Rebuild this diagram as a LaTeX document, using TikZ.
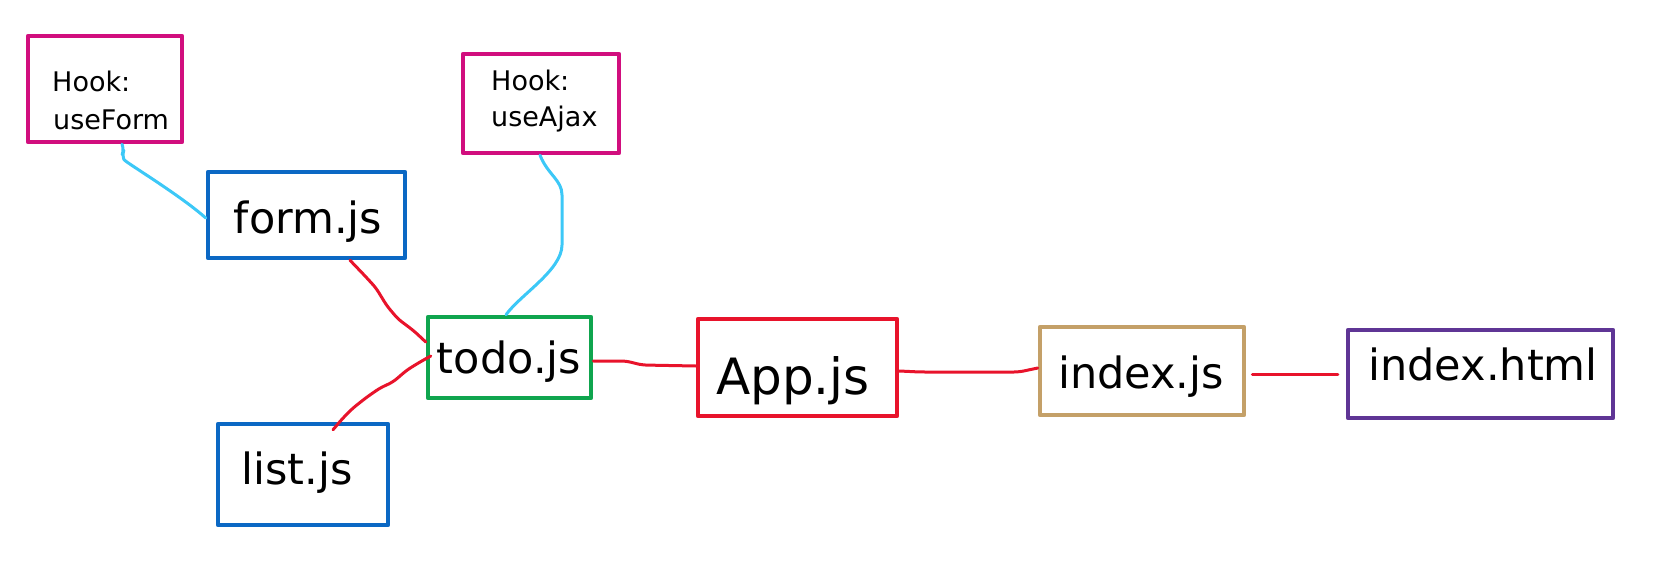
\documentclass[tikz,border=0pt]{standalone}
\usepackage{fontspec}
\setmainfont{DejaVu Sans}
\definecolor{hookc}{HTML}{D10E7E}
\definecolor{bluec}{HTML}{0B68C4}
\definecolor{cyanc}{HTML}{3CC8F7}
\definecolor{redc}{HTML}{E8132B}
\definecolor{greenc}{HTML}{0FA54E}
\definecolor{tanc}{HTML}{C4A068}
\definecolor{purplec}{HTML}{5F3595}
\begin{document}
\begin{tikzpicture}[x=1pt,y=-1pt,
  box/.style={draw=#1, line width=4.5pt, inner sep=0pt, line join=round},
  conn/.style={draw=#1, line width=3pt, line cap=round, line join=round, rounded corners=5pt},
  big/.style={font=\fontsize{43}{50}\selectfont, anchor=base, inner sep=0pt},
  small/.style={font=\fontsize{27}{32}\selectfont, anchor=base west, inner sep=0pt}]
\useasboundingbox (0,0) rectangle (1664,567);

% boxes
\node[box=hookc, minimum width=154pt, minimum height=106pt] (hf) at (105,89) {};
\node[box=hookc, minimum width=156pt, minimum height=99pt] (ua) at (541,103.5) {};
\node[box=bluec, minimum width=197pt, minimum height=86pt] (form) at (306.5,215) {};
\node[box=greenc, minimum width=163pt, minimum height=81pt] (todo) at (509.5,357.5) {};
\node[box=bluec, minimum width=170pt, minimum height=101pt] (list) at (303,474.5) {};
\node[box=redc, minimum width=199pt, minimum height=97pt] (app) at (797.5,367.5) {};
\node[box=tanc, minimum width=204pt, minimum height=88pt] (idx) at (1142,371) {};
\node[box=purplec, minimum width=265pt, minimum height=88pt] (html) at (1480.5,374) {};

% texts
\node[small] (hft1) at (52,92) {Hook:};
\node[small] (hft2) at (53,130) {useForm};
\node[small] (uat1) at (491,91) {Hook:};
\node[small] (uat2) at (491,127) {useAjax};
\node[big] (formt) at (308,233) {form.js};
\node[big] (todot) at (509,373) {todo.js};
\node[big] (listt) at (297,484) {list.js};
\node[big, font=\fontsize{50}{56}\selectfont] (appt) at (793,394) {App.js};
\node[big] (idxt) at (1141,388) {index.js};
\node[big] (htmlt) at (1483,380) {index.html};

% connectors
\draw[conn=cyanc] ([xshift=17pt]hf.south) -- (124,150) -- (122,155)
  .. controls (125,162) and (180,195) .. ([yshift=-3pt]form.west);
\draw[conn=cyanc] ([xshift=-1pt]ua.south) .. controls (548,175) and (562,180) .. (562,200)
  -- (562,240) .. controls (562,270) and (520,295) .. ([xshift=-3.5pt]todo.north);
\draw[conn=redc] ([xshift=43.5pt]form.south) -- (366,277) -- (376,288) -- (387,306)
  -- (398,319) -- (414,331) -- ([yshift=15.5pt]todo.west);
\draw[conn=redc] ([xshift=5pt,yshift=1.5pt]todo.west) -- (420,362) -- (407,370) -- (393,382)
  -- (380,388) -- (367,397) -- (353,408) -- (343,418) -- ([xshift=30pt,yshift=-8pt]list.north);
\draw[conn=redc] ([yshift=-3.5pt]todo.east) -- (626,361) -- (642,365) -- ([yshift=1.5pt]app.west);
\draw[conn=redc] ([yshift=-3.5pt]app.east) -- (920,372) -- (1019,372) -- ([yshift=3pt]idx.west);
\draw[conn=redc] ([xshift=6pt,yshift=-3pt]idx.east) -- ([xshift=-8pt]html.west);
\end{tikzpicture}
\end{document}
